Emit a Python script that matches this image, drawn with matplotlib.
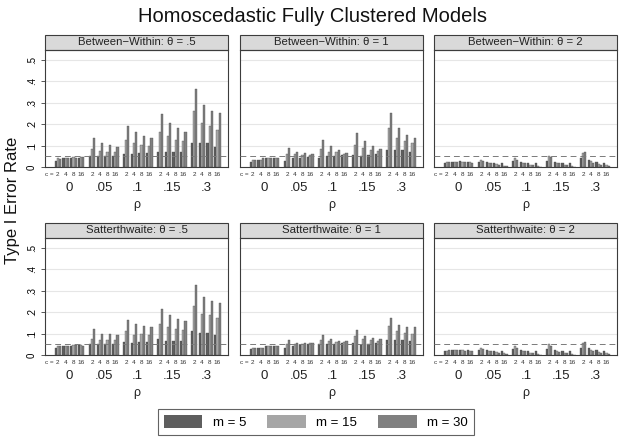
import matplotlib
matplotlib.use('Agg')
import matplotlib.pyplot as plt
from matplotlib.patches import Rectangle, Patch
import matplotlib.transforms as mtransforms

plt.rcParams['font.family'] = ['Liberation Sans', 'DejaVu Sans']

# data: [rho][c][m]
rho_labels = ['0', '.05', '.1', '.15', '.3']
c_labels = ['2', '4', '8', '16']
m_labels = ['m = 5', 'm = 15', 'm = 30']
m_colors = ['#5e5e5e', '#a6a6a6', '#808080']

bw_05 = [
    [[0.030, 0.040, 0.038], [0.040, 0.042, 0.040], [0.043, 0.045, 0.044], [0.044, 0.046, 0.045]],
    [[0.050, 0.085, 0.135], [0.050, 0.075, 0.110], [0.050, 0.070, 0.105], [0.050, 0.070, 0.095]],
    [[0.060, 0.125, 0.190], [0.060, 0.110, 0.165], [0.065, 0.105, 0.145], [0.065, 0.100, 0.135]],
    [[0.070, 0.165, 0.245], [0.070, 0.145, 0.205], [0.070, 0.125, 0.180], [0.070, 0.120, 0.165]],
    [[0.110, 0.260, 0.365], [0.110, 0.205, 0.290], [0.110, 0.190, 0.260], [0.095, 0.175, 0.250]],
]
bw_1 = [
    [[0.025, 0.035, 0.035], [0.035, 0.035, 0.040], [0.040, 0.040, 0.040], [0.040, 0.040, 0.040]],
    [[0.030, 0.060, 0.090], [0.040, 0.060, 0.070], [0.040, 0.055, 0.065], [0.045, 0.055, 0.060]],
    [[0.040, 0.085, 0.125], [0.050, 0.070, 0.100], [0.050, 0.070, 0.080], [0.055, 0.060, 0.065]],
    [[0.055, 0.105, 0.160], [0.050, 0.090, 0.120], [0.055, 0.080, 0.100], [0.060, 0.075, 0.085]],
    [[0.080, 0.180, 0.250], [0.080, 0.135, 0.180], [0.080, 0.120, 0.150], [0.070, 0.110, 0.135]],
]
bw_2 = [
    [[0.020, 0.022, 0.025], [0.025, 0.025, 0.025], [0.030, 0.025, 0.022], [0.025, 0.022, 0.020]],
    [[0.025, 0.035, 0.030], [0.025, 0.020, 0.020], [0.020, 0.015, 0.010], [0.020, 0.006, 0.004]],
    [[0.030, 0.040, 0.035], [0.025, 0.020, 0.020], [0.020, 0.010, 0.010], [0.020, 0.005, 0.002]],
    [[0.030, 0.050, 0.045], [0.025, 0.020, 0.020], [0.020, 0.010, 0.010], [0.020, 0.005, 0.002]],
    [[0.040, 0.065, 0.070], [0.035, 0.030, 0.020], [0.025, 0.015, 0.010], [0.020, 0.010, 0.003]],
]
satt_05 = [
    [[0.035, 0.040, 0.040], [0.040, 0.040, 0.040], [0.040, 0.045, 0.045], [0.045, 0.045, 0.040]],
    [[0.050, 0.075, 0.120], [0.050, 0.070, 0.100], [0.050, 0.070, 0.100], [0.050, 0.070, 0.095]],
    [[0.060, 0.110, 0.165], [0.055, 0.095, 0.145], [0.060, 0.100, 0.135], [0.060, 0.095, 0.130]],
    [[0.075, 0.145, 0.215], [0.065, 0.130, 0.185], [0.065, 0.120, 0.170], [0.065, 0.115, 0.160]],
    [[0.110, 0.230, 0.325], [0.105, 0.190, 0.270], [0.105, 0.185, 0.250], [0.095, 0.175, 0.245]],
]
satt_1 = [
    [[0.030, 0.035, 0.035], [0.035, 0.035, 0.035], [0.040, 0.040, 0.040], [0.040, 0.040, 0.040]],
    [[0.035, 0.050, 0.070], [0.040, 0.050, 0.055], [0.045, 0.050, 0.055], [0.050, 0.055, 0.055]],
    [[0.050, 0.070, 0.095], [0.050, 0.065, 0.075], [0.050, 0.060, 0.065], [0.055, 0.060, 0.065]],
    [[0.055, 0.090, 0.115], [0.045, 0.075, 0.090], [0.050, 0.070, 0.080], [0.055, 0.065, 0.075]],
    [[0.070, 0.135, 0.175], [0.070, 0.110, 0.140], [0.070, 0.105, 0.130], [0.065, 0.100, 0.130]],
]
satt_2 = [
    [[0.020, 0.020, 0.025], [0.025, 0.025, 0.025], [0.025, 0.022, 0.020], [0.025, 0.020, 0.020]],
    [[0.025, 0.035, 0.030], [0.025, 0.020, 0.020], [0.020, 0.015, 0.010], [0.020, 0.010, 0.003]],
    [[0.030, 0.040, 0.035], [0.025, 0.020, 0.020], [0.020, 0.010, 0.010], [0.020, 0.005, 0.002]],
    [[0.030, 0.050, 0.040], [0.025, 0.020, 0.015], [0.020, 0.010, 0.010], [0.020, 0.005, 0.002]],
    [[0.035, 0.055, 0.060], [0.035, 0.025, 0.020], [0.025, 0.015, 0.010], [0.020, 0.010, 0.003]],
]

panels = [
    ('Between\u2212Within: \u03b8 = .5', bw_05),
    ('Between\u2212Within: \u03b8 = 1', bw_1),
    ('Between\u2212Within: \u03b8 = 2', bw_2),
    ('Satterthwaite: \u03b8 = .5', satt_05),
    ('Satterthwaite: \u03b8 = 1', satt_1),
    ('Satterthwaite: \u03b8 = 2', satt_2),
]

W, H = 624, 443
fig = plt.figure(figsize=(W / 100, H / 100), dpi=100)

col_left = [45, 240, 434]
ax_w = 183
row_top = [50, 238]
ax_h = 117
strip_h = 15

c_gap = 0.6
rho_gap = 2.0
c_pitch = 3 + c_gap
grp_w = 4 * 3 + 3 * c_gap
rho_pitch = grp_w + rho_gap

frame_col = '#3c3c3c'

for n, (title, vals) in enumerate(panels):
    r, c = divmod(n, 3)
    ax = fig.add_axes([col_left[c] / W, 1 - (row_top[r] + ax_h) / H, ax_w / W, ax_h / H])

    for i in range(len(rho_labels)):
        for j in range(len(c_labels)):
            for k in range(3):
                x = i * rho_pitch + j * c_pitch + k
                ax.bar(x, vals[i][j][k], width=1.0, align='edge', color=m_colors[k],
                       edgecolor='#4a4a4a', linewidth=0.25, zorder=3)

    ax.set_xlim(-4.5, 4 * rho_pitch + grp_w + 3.4)
    ax.set_ylim(0, 0.546)
    ax.set_yticks([0, 0.1, 0.2, 0.3, 0.4, 0.5])
    for yv in [0.1, 0.2, 0.3, 0.4, 0.5]:
        ax.axhline(yv, color='#e6e6e6', linewidth=0.8, zorder=1)
    ax.axhline(0.05, color='#7a7a7a', linewidth=0.7, linestyle=(0, (6, 4)), zorder=4)

    ax.set_xticks([])
    if c == 0:
        ax.set_yticklabels(['0', '.1', '.2', '.3', '.4', '.5'], rotation=90, va='center', fontsize=7)
        ax.tick_params(axis='y', length=3, width=0.6, color=frame_col, pad=3)
    else:
        ax.set_yticklabels([])
        ax.tick_params(axis='y', length=0)
    for s in ax.spines.values():
        s.set_color(frame_col)
        s.set_linewidth(0.8)

    # header strip
    ax.add_patch(Rectangle((0, 1), 1, strip_h / ax_h, transform=ax.transAxes, clip_on=False,
                           facecolor='#d9d9d9', edgecolor=frame_col, linewidth=0.8))
    ax.text(0.5, 1 + strip_h / ax_h / 2, title, transform=ax.transAxes, ha='center', va='center',
            fontsize=8.2, color='#222222')

    # category labels
    trans = mtransforms.blended_transform_factory(ax.transData, ax.transAxes)
    for i, rl in enumerate(rho_labels):
        for j, cl in enumerate(c_labels):
            xc = i * rho_pitch + j * c_pitch + 1.5
            ax.text(xc, -7 / ax_h, cl, transform=trans, ha='center', va='center', fontsize=4.6,
                    color='#333333')
        ax.text(i * rho_pitch + grp_w / 2, -21 / ax_h, rl, transform=trans, ha='center',
                va='center', fontsize=9.5, color='#222222')
    ax.text(-0.3, -7 / ax_h, 'c =', transform=trans, ha='right', va='center', fontsize=4.6,
            color='#333333')
    ax.text(0.5, -38 / ax_h, '\u03c1', transform=ax.transAxes, ha='center', va='center',
            fontsize=9, color='#222222')

fig.text(0.5, 1 - 16 / H, 'Homoscedastic Fully Clustered Models', ha='center', va='center',
         fontsize=14.5, color='#111111')
fig.text(13 / W, 1 - 200 / H, 'Type I Error Rate', rotation=90, ha='center', va='center',
         fontsize=12, color='#111111')

handles = [Patch(facecolor=col, edgecolor='none') for col in m_colors]
leg = fig.legend(handles, m_labels, ncol=3, loc='center', bbox_to_anchor=(316 / W, 1 - 422 / H),
                 fontsize=9.5, frameon=True, fancybox=False, handlelength=2.9, handleheight=1.1,
                 columnspacing=1.6, handletextpad=0.8, borderpad=0.45)
leg.get_frame().set_edgecolor(frame_col)
leg.get_frame().set_linewidth(0.8)

fig.savefig('out.png', dpi=100)
